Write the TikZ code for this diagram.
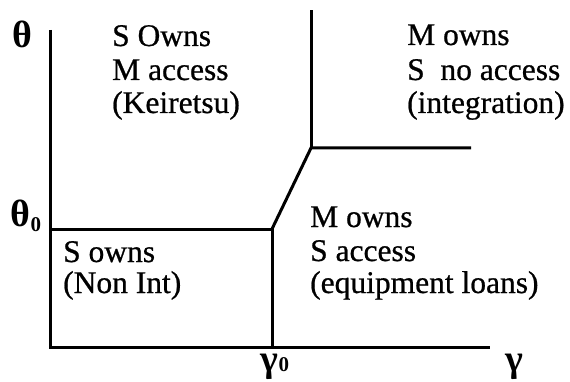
\documentclass[tikz,border=0pt]{standalone}
\usepackage{fontspec}
\setmainfont{Liberation Serif}
\newfontfamily\heavyserif[FakeBold=0.7]{Liberation Serif}
\begin{document}
\begin{tikzpicture}[x=1pt,y=-1pt,
  bnd/.style={line width=3pt},
  lbl/.style={anchor=base west,inner sep=0pt,font=\heavyserif\fontsize{31.5}{34}\selectfont},
  sym/.style={inner sep=0pt,font=\fontsize{38}{40}\selectfont\bfseries},
  subn/.style={font=\fontsize{18}{18}\selectfont\bfseries}]
\useasboundingbox (0,0) rectangle (570,382);
\coordinate (ytop) at (50,30);
\coordinate (o) at (50,347);
\coordinate (xend) at (490,347);
\coordinate (t0) at (50,229);
\coordinate (c1) at (272,229);
\coordinate (g0) at (272,347);
\coordinate (c2) at (311,148);
\coordinate (hend) at (471,148);
\coordinate (vtop) at (311,10);
\draw[bnd] (ytop) -- (o) -- (xend);
\draw[bnd] (t0) -- (c1) -- (g0);
\draw[bnd] (c1) -- (c2) -- (hend);
\draw[bnd] (c2) -- (vtop);
% axis labels
\node[sym] (theta) at (22,34) {θ};
\node[sym] (theta0) at (26,216) {θ\raisebox{-5pt}{\fontsize{21}{21}\selectfont 0}};
\node[sym] (gamma0) at (275,367) {γ{\fontsize{21}{21}\selectfont 0}};
\node[sym] (gamma) at (514,367) {γ};
% region labels
\node[lbl] (tl1) at (112,46) {S Owns};
\node[lbl] (tl2) at (112,80) {M access};
\node[lbl] (tl3) at (112,113) {(Keiretsu)};
\node[lbl] (tr1) at (407,45) {M owns};
\node[lbl] (tr2) at (407,80) {S\ \ no access};
\node[lbl] (tr3) at (407,113) {(integration)};
\node[lbl] (br1) at (310,227) {M owns};
\node[lbl] (br2) at (310,261) {S access};
\node[lbl] (br3) at (310,293) {(equipment loans)};
\node[lbl] (bl1) at (63,262) {S owns};
\node[lbl] (bl2) at (63,293) {(Non Int)};
\end{tikzpicture}
\end{document}
